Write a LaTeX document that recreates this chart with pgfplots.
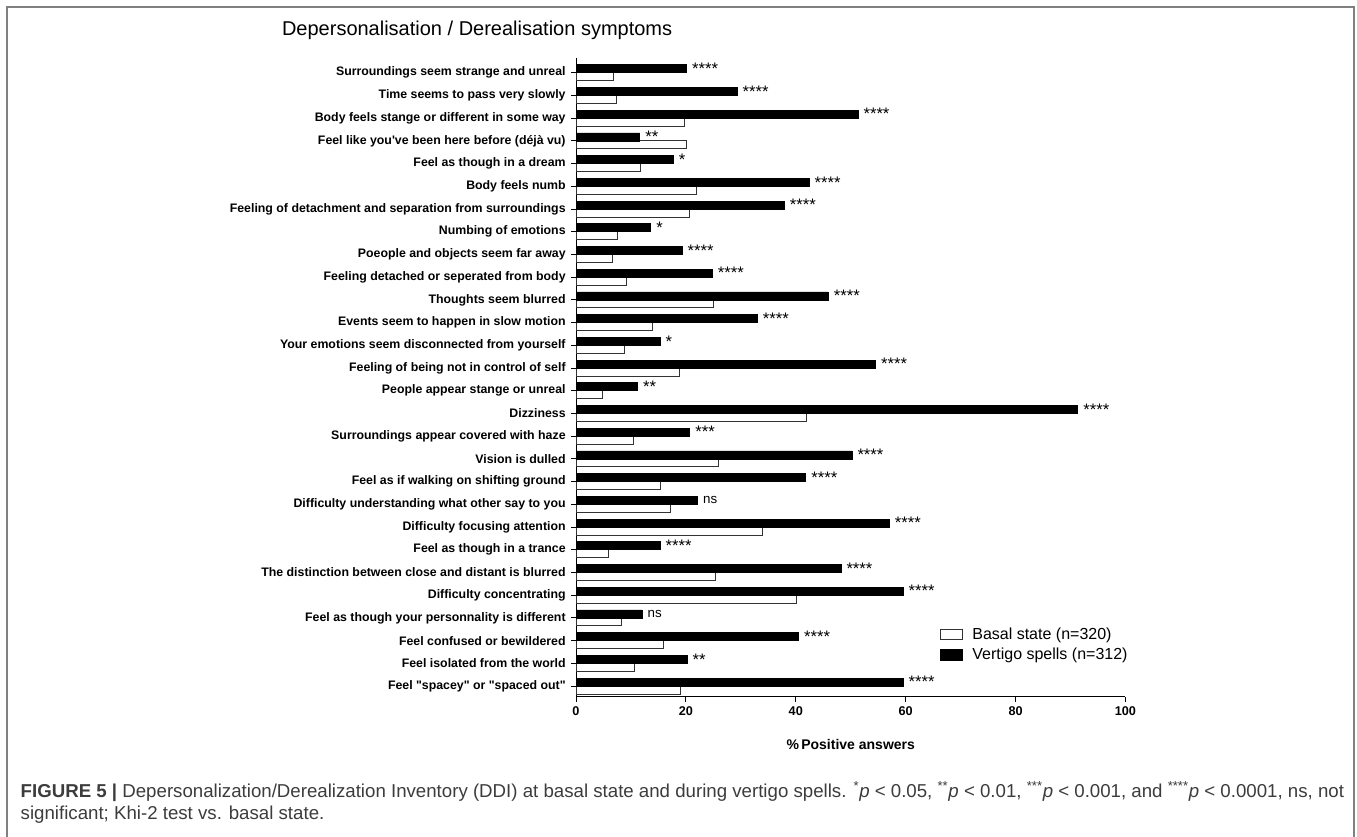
\documentclass[border=0pt]{standalone}
\usepackage{pgfplots}
\usepackage{pgfplotstable}
\usepackage{fontspec}
\setmainfont{Liberation Sans}
\pgfplotsset{compat=1.18}

% idx 27 = top row, idx 0 = bottom row
\pgfplotstableread{
idx basal vertigo sig
27  6.8  20.1 ****
26  7.3  29.3 ****
25 19.8  51.3 ****
24 20.1  11.6 **
23 11.7  17.7 *
22 21.9  42.4 ****
21 20.6  37.9 ****
20  7.6  13.6 *
19  6.7  19.3 ****
18  9.2  24.8 ****
17 25.0  45.9 ****
16 13.9  33.0 ****
15  8.9  15.3 *
14 18.9  54.5 ****
13  4.8  11.2 **
12 42.0  91.3 ****
11 10.4  20.7 ***
10 25.9  50.2 ****
9  15.3  41.8 ****
8  17.2  22.1 ns
7  33.9  57.0 ****
6   6.0  15.3 ****
5  25.3  48.2 ****
4  40.2  59.5 ****
3   8.2  12.0 ns
2  15.9  40.5 ****
1  10.7  20.2 **
0  19.1  59.5 ****
}\ddidata

\definecolor{framegray}{RGB}{128,128,128}
\definecolor{captiongray}{RGB}{60,60,60}

% stars a bit larger than "ns"
\def\nsstr{ns}
\newcommand\sigfmt[1]{\edef\sigtmp{#1}%
  \ifx\sigtmp\nsstr\fontsize{10}{12}\selectfont ns\else\fontsize{12.5}{14}\selectfont\sigtmp\fi}

\begin{document}
\begin{tikzpicture}
\useasboundingbox (0,0) rectangle (1017.75pt,627.75pt);
\draw[framegray, line width=1.5pt] (5.25pt,0) -- (5.25pt,622.5pt) -- (1015.5pt,622.5pt) -- (1015.5pt,0);

\node[font=\fontsize{15}{17}\selectfont, anchor=west] at (208pt,605pt) {Depersonalisation / Derealisation symptoms};

\begin{axis}[
  at={(432pt,105pt)}, anchor=south west,
  scale only axis, width=412.1pt, height=479.25pt,
  xbar, bar width=6pt,
  xmin=0, xmax=100, ymin=-0.48, ymax=27.65,
  axis lines=left, axis line style={-, line width=0.75pt},
  tick align=outside, major tick length=3.75pt,
  tick style={line width=0.75pt, black},
  xtick={0,20,...,100}, ytick={0,...,27},
  minor tick num=0,
  /pgf/number format/assume math mode=true,
  xticklabel style={font=\bfseries\fontsize{9.5}{11}\selectfont},
  yticklabel style={font=\bfseries\fontsize{9.25}{11}\selectfont, xshift=-0.5pt},
  yticklabels={
    {Feel \textquotedbl spacey\textquotedbl{} or \textquotedbl spaced out\textquotedbl},
    {Feel isolated from the world},
    {Feel confused or bewildered},
    {Feel as though your personnality is different},
    {Difficulty concentrating},
    {The distinction between close and distant is blurred},
    {Feel as though in a trance},
    {Difficulty focusing attention},
    {Difficulty understanding what other say to you},
    {Feel as if walking on shifting ground},
    {Vision is dulled},
    {Surroundings appear covered with haze},
    {Dizziness},
    {People appear stange or unreal},
    {Feeling of being not in control of self},
    {Your emotions seem disconnected from yourself},
    {Events seem to happen in slow motion},
    {Thoughts seem blurred},
    {Feeling detached or seperated from body},
    {Poeople and objects seem far away},
    {Numbing of emotions},
    {Feeling of detachment and separation from surroundings},
    {Body feels numb},
    {Feel as though in a dream},
    {Feel like you\textquotesingle ve been here before (déjà vu)},
    {Body feels stange or different in some way},
    {Time seems to pass very slowly},
    {Surroundings seem strange and unreal}},
  xlabel={\%\,Positive answers},
  xlabel style={at={(axis description cs:0.5,0)}, anchor=center, yshift=-36pt,
    font=\bfseries\fontsize{10.5}{12}\selectfont},
  legend style={draw=none, fill=none, at={(0.662,0.113)}, anchor=north west,
    font=\fontsize{12}{14}\selectfont, row sep=1pt, column sep=5pt, inner sep=0pt,
    cells={anchor=west}},
  legend image code/.code={\draw[#1, line width=0.75pt] (0pt,-4pt) rectangle (16.5pt,4pt);},
  clip=false,
]
\addplot[draw=black!80, fill=white, line width=0.75pt, bar shift=-3pt]
  table[x=basal, y=idx] {\ddidata};
\addlegendentry{Basal state (n=320)}
\addplot[draw=black, fill=black, line width=0.5pt, bar shift=3pt,
  point meta=explicit symbolic,
  nodes near coords={\sigfmt{\pgfplotspointmeta}},
  every node near coord/.append style={anchor=west, inner sep=1pt, xshift=3pt, black}]
  table[x=vertigo, y=idx, meta=sig] {\ddidata};
\addlegendentry{Vertigo spells (n=312)}
\end{axis}

\node[anchor=west, text=captiongray, font=\fontsize{14}{16}\selectfont] at (12pt,34pt)
  {\textbf{FIGURE 5 |} Depersonalization/Derealization Inventory (DDI) at basal state and during vertigo spells. \textsuperscript{*}\textit{p} < 0.05, \textsuperscript{**}\textit{p} < 0.01, \textsuperscript{***}\textit{p} < 0.001, and \textsuperscript{****}\textit{p} < 0.0001, ns, not};
\node[anchor=west, text=captiongray, font=\fontsize{14}{16}\selectfont] at (12pt,16.5pt)
  {significant; Khi-2 test vs. basal state.};
\end{tikzpicture}
\end{document}
